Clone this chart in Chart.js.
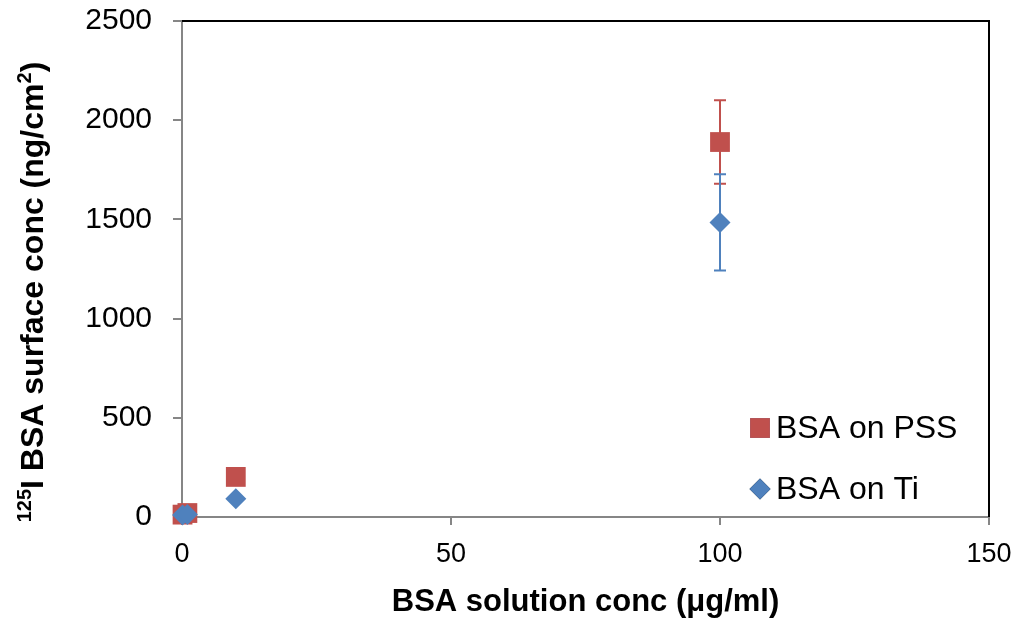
<!DOCTYPE html>
<html>
<head>
<meta charset="utf-8">
<script src="https://cdn.jsdelivr.net/npm/chart.js@4.4.1/dist/chart.umd.min.js"></script>
<style>
  html, body { margin: 0; padding: 0; background: #fff; }
  #wrap { width: 1020px; height: 621px; }
</style>
</head>
<body>
<div id="wrap"><canvas id="chart" width="1020" height="621"></canvas></div>
<script>
// Data
const concX = [0.1, 1, 10, 100];
const pssValues = [12, 20, 202, 1890];
const pssErrors = [0, 0, 0, 210];
const tiValues = [10, 12, 92, 1485];
const tiErrors = [0, 0, 0, 242];

const xTicks = [0, 50, 100, 150];
const yTicks = [0, 500, 1000, 1500, 2000, 2500];

const PSS_COLOR = '#C0504D';
const TI_COLOR = '#4F81BD';
const FONT = 'Arial, "Liberation Sans", sans-serif';

// Error bars (vertical, with caps)
const errorBars = {
    id: 'errorBars',
    afterDatasetsDraw(chart) {
        const ctx = chart.ctx;
        const xs = chart.scales.x, ys = chart.scales.y;
        chart.data.datasets.forEach(ds => {
            ds.errors.forEach((err, i) => {
                if (!err) return;
                const p = ds.data[i];
                const px = xs.getPixelForValue(p.x);
                const top = ys.getPixelForValue(p.y + err);
                const bot = ys.getPixelForValue(p.y - err);
                ctx.save();
                ctx.strokeStyle = ds.borderColor;
                ctx.lineWidth = 2;
                ctx.beginPath();
                ctx.moveTo(px, top); ctx.lineTo(px, bot);
                ctx.moveTo(px - 6, top); ctx.lineTo(px + 6, top);
                ctx.moveTo(px - 6, bot); ctx.lineTo(px + 6, bot);
                ctx.stroke();
                ctx.restore();
            });
        });
    }
};

// Black top/right frame, y title and in-plot legend
const decorations = {
    id: 'decorations',
    beforeDatasetsDraw(chart) {
        const ctx = chart.ctx, a = chart.chartArea;
        ctx.save();
        ctx.strokeStyle = '#000';
        ctx.lineWidth = 2;
        ctx.beginPath();
        ctx.moveTo(a.left, a.top); ctx.lineTo(a.right, a.top); ctx.lineTo(a.right, a.bottom);
        ctx.stroke();
        ctx.restore();
    },
    afterDraw(chart) {
        const ctx = chart.ctx;
        ctx.save();
        ctx.fillStyle = '#000';
        // y title with superscript
        ctx.translate(34, 292);
        ctx.rotate(-Math.PI / 2);
        const sup = '125', main = 'I BSA surface conc (ng/cm', sup2 = '2', tail = ')';
        const big = 'bold 32px ' + FONT, small = 'bold 20px ' + FONT;
        ctx.font = small;
        const wSup = ctx.measureText(sup).width;
        const wSup2 = ctx.measureText(sup2).width;
        ctx.font = big;
        const wMain = ctx.measureText(main).width;
        const wTail = ctx.measureText(tail).width;
        let x = -(wSup + wMain + wSup2 + wTail) / 2;
        ctx.textBaseline = 'middle';
        ctx.font = small;
        ctx.fillText(sup, x, -9); x += wSup;
        ctx.font = big;
        ctx.fillText(main, x, 0); x += wMain;
        ctx.font = small;
        ctx.fillText(sup2, x, -9); x += wSup2;
        ctx.font = big;
        ctx.fillText(tail, x, 0);
        ctx.restore();

        // legend inside the plot area
        ctx.save();
        ctx.font = '32px ' + FONT;
        ctx.textBaseline = 'middle';
        const rows = [428, 489];
        chart.data.datasets.forEach((ds, i) => {
            Chart.helpers.drawPoint(ctx, {
                pointStyle: ds.pointStyle, radius: ds.pointRadius, rotation: 0, borderWidth: 0
            }, 760, rows[i]);
            ctx.fillStyle = ds.backgroundColor;
            ctx.fill();
            ctx.fillStyle = '#000';
            ctx.fillText(ds.label, 776, rows[i] + 1);
        });
        ctx.restore();
    }
};

const toPoints = vals => vals.map((v, i) => ({ x: concX[i], y: v }));

new Chart(document.getElementById('chart'), {
    type: 'scatter',
    data: {
        datasets: [{
            label: 'BSA on PSS',
            data: toPoints(pssValues),
            errors: pssErrors,
            order: 1,
            pointStyle: 'rect',
            pointRadius: 14,
            pointHoverRadius: 14,
            backgroundColor: PSS_COLOR,
            borderColor: PSS_COLOR,
            borderWidth: 0,
            clip: false,
        }, {
            label: 'BSA on Ti',
            data: toPoints(tiValues),
            errors: tiErrors,
            order: 0,
            pointStyle: 'rectRot',
            pointRadius: 10.5,
            pointHoverRadius: 10.5,
            backgroundColor: TI_COLOR,
            borderColor: TI_COLOR,
            borderWidth: 0,
            clip: false,
        }]
    },
    options: {
        responsive: false,
        animation: false,
        events: [],
        layout: { padding: { top: 21, right: 31, left: 0, bottom: 0 } },
        plugins: { legend: { display: false }, tooltip: { enabled: false } },
        scales: {
            x: {
                type: 'linear', min: 0, max: 150,
                afterBuildTicks: s => { s.ticks = xTicks.map(v => ({ value: v })); },
                afterFit: s => { s.height = 104; s.paddingLeft = 0; s.paddingRight = 0; },
                grid: { drawOnChartArea: false, color: '#868686', lineWidth: 2, tickLength: 8 },
                border: { color: '#868686', width: 2 },
                ticks: {
                    color: '#000', font: { family: FONT, size: 27 }, padding: 13, maxRotation: 0,
                    callback: v => String(v)
                },
                title: {
                    display: true, text: 'BSA solution conc (\u03BCg/ml)', color: '#000',
                    font: { family: FONT, size: 31, weight: 'bold' }, padding: { top: 0, bottom: 0 }
                }
            },
            y: {
                type: 'linear', min: 0, max: 2500,
                afterBuildTicks: s => { s.ticks = yTicks.map(v => ({ value: v })); },
                afterFit: s => { s.width = 182; s.paddingTop = 0; s.paddingBottom = 0; },
                grid: { drawOnChartArea: false, color: '#868686', lineWidth: 2, tickLength: 9 },
                border: { color: '#868686', width: 2 },
                ticks: {
                    color: '#000', font: { family: FONT, size: 30 }, padding: 21,
                    callback: v => String(v)
                }
            }
        }
    },
    plugins: [errorBars, decorations]
});
</script>
</body>
</html>
